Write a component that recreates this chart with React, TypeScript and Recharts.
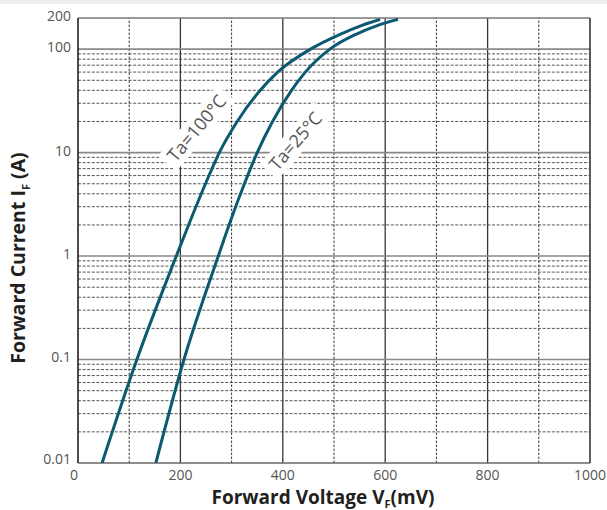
import React from 'react';
import { LineChart, Line, XAxis, YAxis, ReferenceLine, ReferenceDot } from 'recharts';

// Axis ticks
const voltageTicks = [0, 200, 400, 600, 800, 1000];
const currentTicks = [0.01, 0.1, 1, 10, 100, 200];

// Grid lines
const majorVoltage = [200, 400, 600, 800];
const minorVoltage = [100, 300, 500, 700, 900];
const majorCurrent = [0.1, 1, 10, 100];
const minorCurrent = [
  0.02, 0.03, 0.04, 0.05, 0.06, 0.07, 0.08, 0.09,
  0.2, 0.3, 0.4, 0.5, 0.6, 0.7, 0.8, 0.9,
  2, 3, 4, 5, 6, 7, 8, 9,
  20, 30, 40, 50, 60, 70, 80, 90,
];

// Series: forward voltage (mV) vs forward current (A)
const ta100Voltage = [47, 115, 192, 216, 249, 276, 311, 356, 390, 454, 513, 552, 590];
const ta100Current = [0.01, 0.1, 1, 2, 5, 10, 20, 40, 60, 100, 140, 168, 194];
const ta25Voltage = [152, 207, 274, 295, 325, 350, 380, 417, 444, 492, 544, 583, 625];
const ta25Current = [0.01, 0.1, 1, 2, 5, 10, 20, 40, 60, 100, 140, 168, 194];

// Curve labels
const labelTa100 = { v: 232, i: 17.2, text: 'Ta=100°C', w: 92 };
const labelTa25 = { v: 425, i: 12.9, text: 'Ta=25°C', w: 82 };

const ta100 = ta100Voltage.map((v, k) => ({ v, i: ta100Current[k] }));
const ta25 = ta25Voltage.map((v, k) => ({ v, i: ta25Current[k] }));

const CURVE = '#0c5a72';
const FONT = '"Open Sans", "Noto Sans", sans-serif';

const fmtCurrent = (n: number) => String(n);

const XTick = (props: any) => {
  const { x, y, payload } = props;
  const shift = payload.value === 0 ? -4 : 0;
  return (
    <text x={x + shift} y={y - 1} dy="0.71em" textAnchor="middle" fill="#555" fontSize={14} fontFamily={FONT}>
      {payload.value}
    </text>
  );
};

const YTick = (props: any) => {
  const { x, y, payload } = props;
  const lift = payload.value === 0.01 ? 4 : 2;
  return (
    <text x={x + 1} y={y - lift} dy="0.35em" textAnchor="end" fill="#555" fontSize={14} fontFamily={FONT}>
      {fmtCurrent(payload.value)}
    </text>
  );
};

const makeLabelShape = (text: string, w: number, angle: number) => (props: any) => {
  const { cx, cy } = props;
  if (cx == null || cy == null) return <g />;
  return (
    <g transform={`translate(${cx},${cy}) rotate(${angle})`}>
      <rect x={-w / 2} y={-12} width={w} height={24} fill="#ffffff" />
      <text x={0} y={0} dy="0.35em" textAnchor="middle" fill="#555" fontSize={18} fontFamily={FONT}>
        {text}
      </text>
    </g>
  );
};

const XTitle = (props: any) => {
  const vb = props.viewBox || { x: 78, y: 463, width: 512, height: 30 };
  const cx = vb.x + vb.width / 2 - 11;
  return (
    <text x={cx} y={504} textAnchor="middle" fill="#231f20" fontSize={19} fontWeight={700} fontFamily={FONT}>
      Forward Voltage V
      <tspan fontSize={11} dy={4}>F</tspan>
      <tspan dy={-4}>(mV)</tspan>
    </text>
  );
};

const YTitle = () => {
  const cx = 25;
  const cy = 258;
  return (
    <text
      x={cx}
      y={cy}
      transform={`rotate(-90, ${cx}, ${cy})`}
      textAnchor="middle"
      fill="#231f20"
      fontSize={19.5}
      fontWeight={700}
      fontFamily={FONT}
    >
      Forward Current I
      <tspan fontSize={11} dy={5}>F</tspan>
      <tspan dy={-5}> (A)</tspan>
    </text>
  );
};

export default function App() {
  return (
    <div style={{ position: 'relative', width: 607, height: 510, background: '#fff' }}>
      <style>{`body{margin:0;background:#fff}`}</style>
      <div style={{ position: 'absolute', left: 0, top: 0, width: 607, height: 4, background: '#eeeeee' }} />
      <LineChart width={607} height={510} margin={{ top: 18, right: 17, bottom: 17, left: 18 }}>
        <XAxis
          dataKey="v"
          type="number"
          domain={[0, 1000]}
          ticks={voltageTicks}
          axisLine={false}
          tickLine={false}
          height={30}
          tick={<XTick />}
          allowDataOverflow
          label={<XTitle />}
        />
        <YAxis
          dataKey="i"
          type="number"
          scale="log"
          domain={[0.01, 200]}
          ticks={currentTicks}
          axisLine={false}
          tickLine={false}
          width={60}
          tick={<YTick />}
          allowDataOverflow
          label={<YTitle />}
        />
        {minorCurrent.map((c) => (
          <ReferenceLine key={'mc' + c} y={c} stroke="#555" strokeWidth={1} strokeDasharray="3 1.6" />
        ))}
        {minorVoltage.map((v) => (
          <ReferenceLine key={'mv' + v} x={v} stroke="#333" strokeWidth={1} strokeDasharray="2.4 1.6" />
        ))}
        {majorVoltage.map((v) => (
          <ReferenceLine key={'Mv' + v} x={v} stroke="#3a3434" strokeWidth={1.3} />
        ))}
        {majorCurrent.map((c) => (
          <ReferenceLine key={'Mc' + c} y={c} stroke="#8a8888" strokeWidth={1.6} />
        ))}
        <ReferenceLine y={200} stroke="#7a7878" strokeWidth={1.6} />
        <ReferenceLine y={0.01} stroke="#6a6666" strokeWidth={1.6} />
        <ReferenceLine x={0} stroke="#231f20" strokeWidth={1.6} />
        <ReferenceLine x={1000} stroke="#3a3434" strokeWidth={1.6} />
        <ReferenceDot
          x={labelTa100.v}
          y={labelTa100.i}
          r={0}
          shape={makeLabelShape(labelTa100.text, labelTa100.w, -50)}
        />
        <ReferenceDot
          x={labelTa25.v}
          y={labelTa25.i}
          r={0}
          shape={makeLabelShape(labelTa25.text, labelTa25.w, -49)}
        />
        <Line
          data={ta100}
          dataKey="i"
          type="monotone"
          stroke={CURVE}
          strokeWidth={3}
          dot={false}
          isAnimationActive={false}
        />
        <Line
          data={ta25}
          dataKey="i"
          type="monotone"
          stroke={CURVE}
          strokeWidth={3}
          dot={false}
          isAnimationActive={false}
        />
      </LineChart>
    </div>
  );
}
